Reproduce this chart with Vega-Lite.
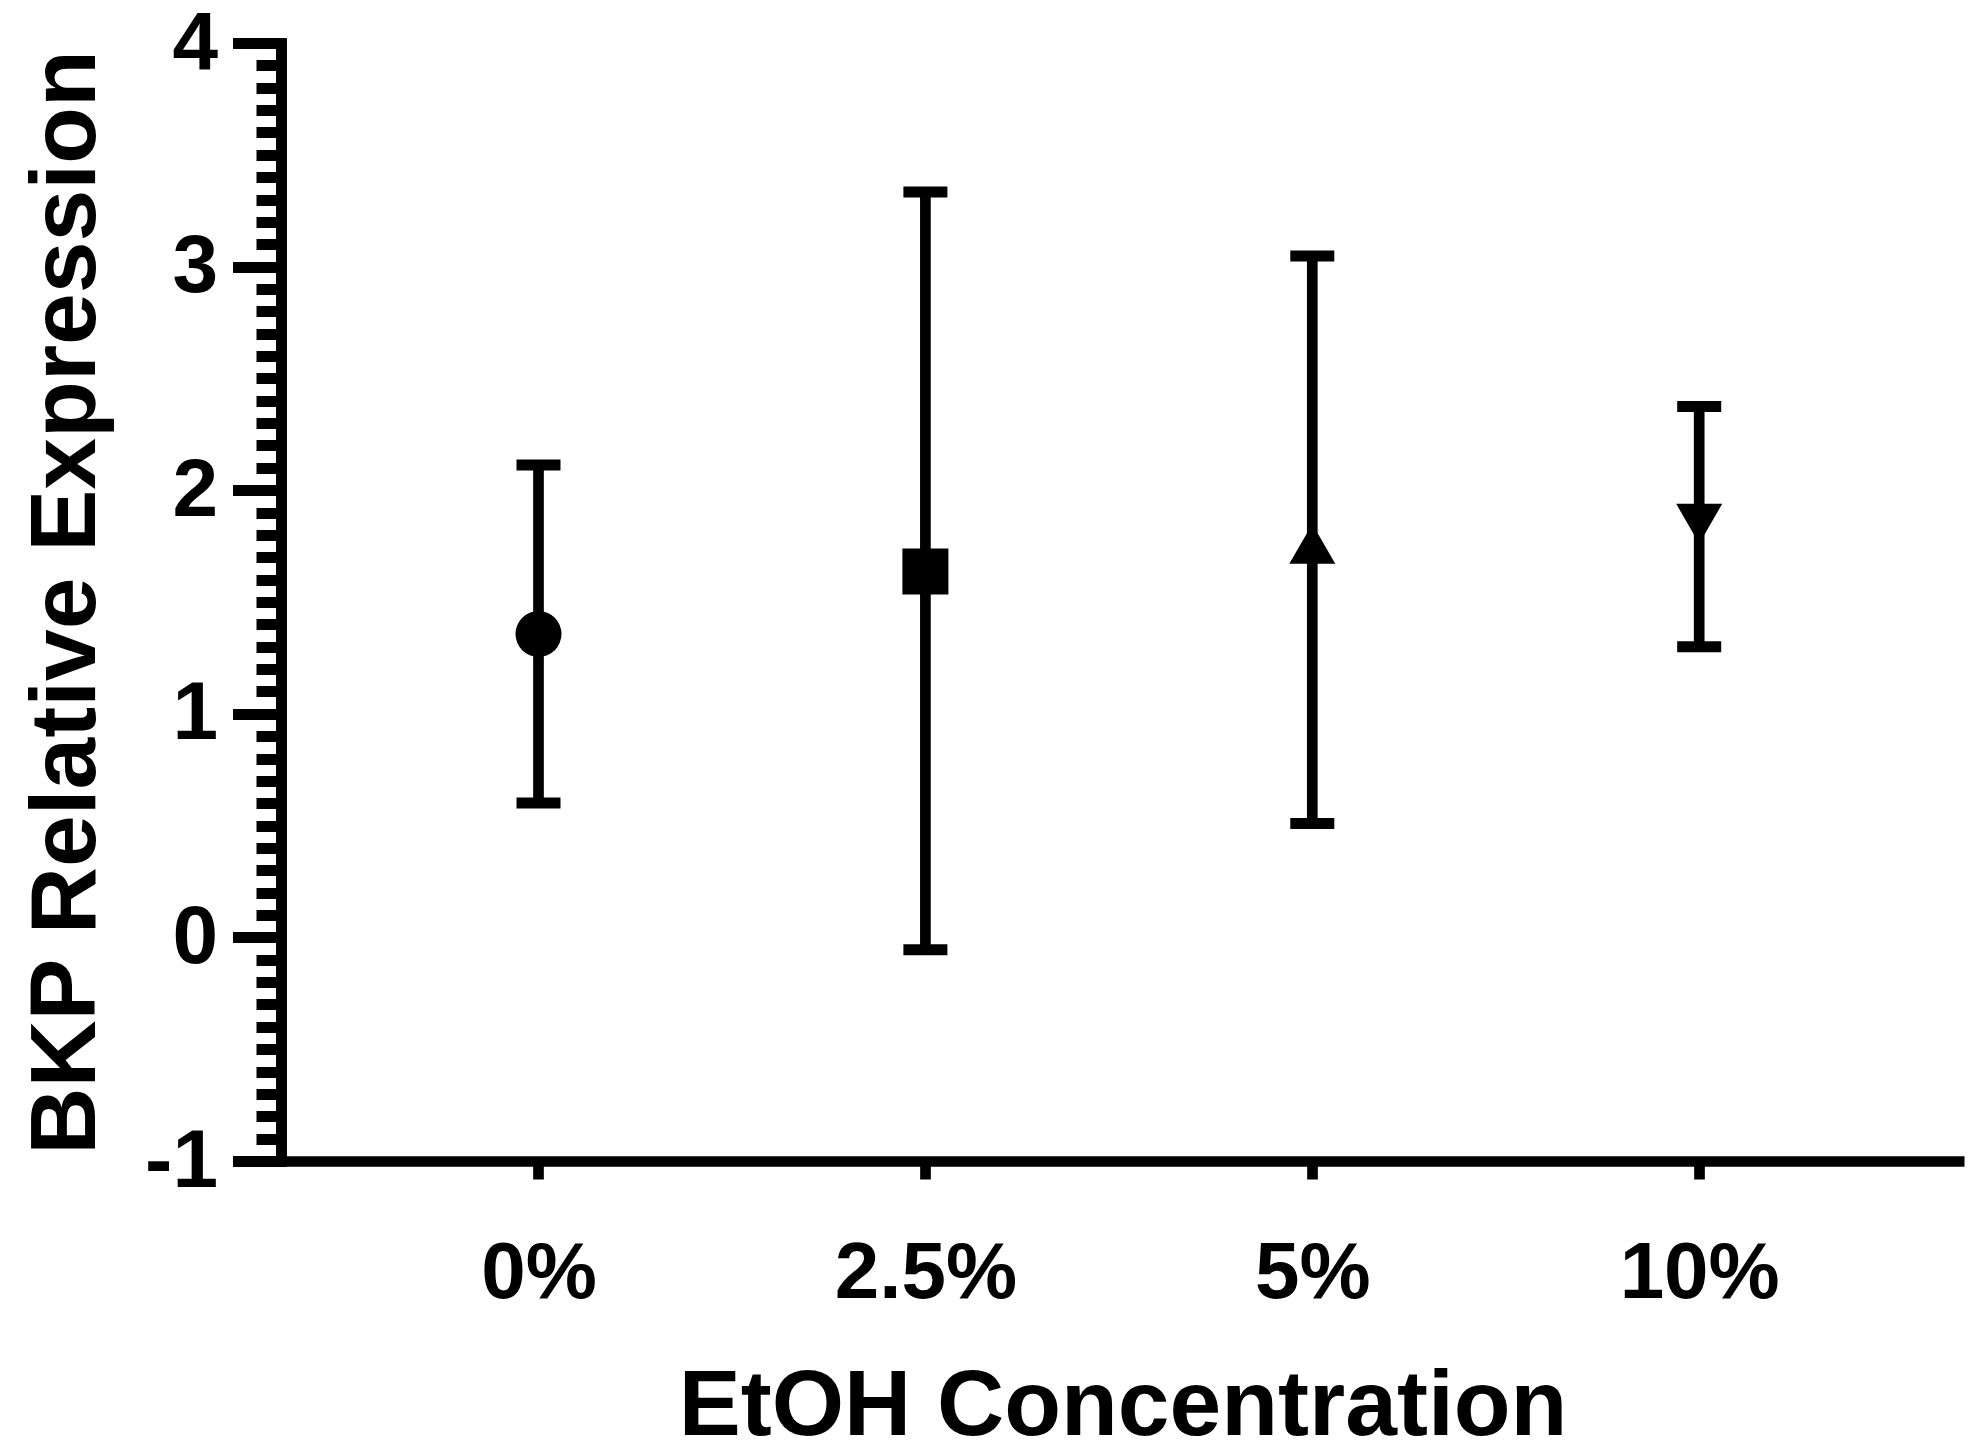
{
  "$schema": "https://vega.github.io/schema/vega-lite/v6.json",
  "autosize": {"type": "none"},
  "padding": {"left": 281, "top": 43, "right": 20, "bottom": 294},
  "width": 1683,
  "height": 1118,
  "background": "white",
  "config": {
    "view": {"stroke": null},
    "font": "Liberation Sans",
    "axis": {"grid": false, "domainColor": "black", "tickColor": "black", "labelColor": "black", "titleColor": "black", "labelLimit": 0, "titleLimit": 0}
  },
  "data": {
    "values": [
      {"conc": "0%", "mean": 1.357, "upper": 2.113, "lower": 0.601},
      {"conc": "2.5%", "mean": 1.636, "upper": 3.334, "lower": -0.055},
      {"conc": "5%", "mean": 1.76, "upper": 3.047, "lower": 0.509},
      {"conc": "10%", "mean": 1.85, "upper": 2.374, "lower": 1.3}
    ]
  },
  "encoding": {
    "x": {
      "field": "conc",
      "type": "ordinal",
      "sort": ["0%", "2.5%", "5%", "10%"],
      "scale": {"type": "point", "padding": 0.675, "align": 0.493},
      "axis": {
        "title": "EtOH Concentration",
        "titleFont": "Liberation Sans",
        "titleFontSize": 93,
        "titleFontWeight": "bold",
        "titlePadding": 48,
        "labelFont": "Liberation Sans",
        "labelFontSize": 80,
        "labelFontWeight": "bold",
        "labelAngle": 0,
        "labelPadding": 55,
        "labelLimit": 0,
        "tickSize": 18,
        "tickWidth": 10.7,
        "domainWidth": 10.7,
        "domainCap": "butt"
      }
    }
  },
  "layer": [
    {
      "mark": {"type": "rule", "strokeWidth": 10.7, "color": "black"},
      "encoding": {
        "y": {
          "field": "lower",
          "type": "quantitative",
          "scale": {"domain": [-1, 4], "nice": false, "zero": false},
          "axis": {
            "orient": "left",
            "values": [-0.9,-0.8,-0.7,-0.6,-0.5,-0.4,-0.3,-0.2,-0.1,0.1,0.2,0.3,0.4,0.5,0.6,0.7,0.8,0.9,1.1,1.2,1.3,1.4,1.5,1.6,1.7,1.8,1.9,2.1,2.2,2.3,2.4,2.5,2.6,2.7,2.8,2.9,3.1,3.2,3.3,3.4,3.5,3.6,3.7,3.8,3.9],
            "labels": false,
            "title": null,
            "tickSize": 25,
            "tickWidth": 11,
            "domainWidth": 10.7,
            "domainCap": "square"
          }
        },
        "y2": {"field": "upper"}
      }
    },
    {
      "mark": {"type": "tick", "size": 44, "thickness": 11, "color": "black", "opacity": 1},
      "encoding": {
        "y": {
          "field": "upper",
          "type": "quantitative",
          "scale": {"domain": [-1, 4], "nice": false, "zero": false},
          "axis": {
            "orient": "left",
            "values": [-1, 0, 1, 2, 3, 4],
            "labelExpr": "'' + datum.value",
            "labelFont": "Liberation Sans",
            "labelFontSize": 82,
            "labelFontWeight": "bold",
            "labelPadding": 15,
            "labelFlush": false,
            "labelOverlap": false,
            "labelLimit": 0,
            "tickSize": 48.5,
            "tickWidth": 11,
            "domainWidth": 10.7,
            "domainCap": "square",
            "title": "BKP Relative Expression",
            "titleFont": "Liberation Sans",
            "titleFontSize": 93,
            "titleFontWeight": "bold",
            "titlePadding": 30
          }
        }
      }
    },
    {
      "mark": {"type": "tick", "size": 44, "thickness": 11, "color": "black", "opacity": 1},
      "encoding": {
        "y": {"field": "lower", "type": "quantitative", "axis": null}
      }
    },
    {
      "mark": {"type": "point", "filled": true, "size": 2116, "color": "black", "opacity": 1},
      "encoding": {
        "y": {"field": "mean", "type": "quantitative", "axis": null},
        "shape": {
          "field": "conc",
          "type": "nominal",
          "scale": {"domain": ["0%", "2.5%", "5%", "10%"], "range": ["circle", "square", "triangle-up", "triangle-down"]},
          "legend": null
        }
      }
    }
  ],
  "resolve": {"axis": {"y": "independent"}}
}
